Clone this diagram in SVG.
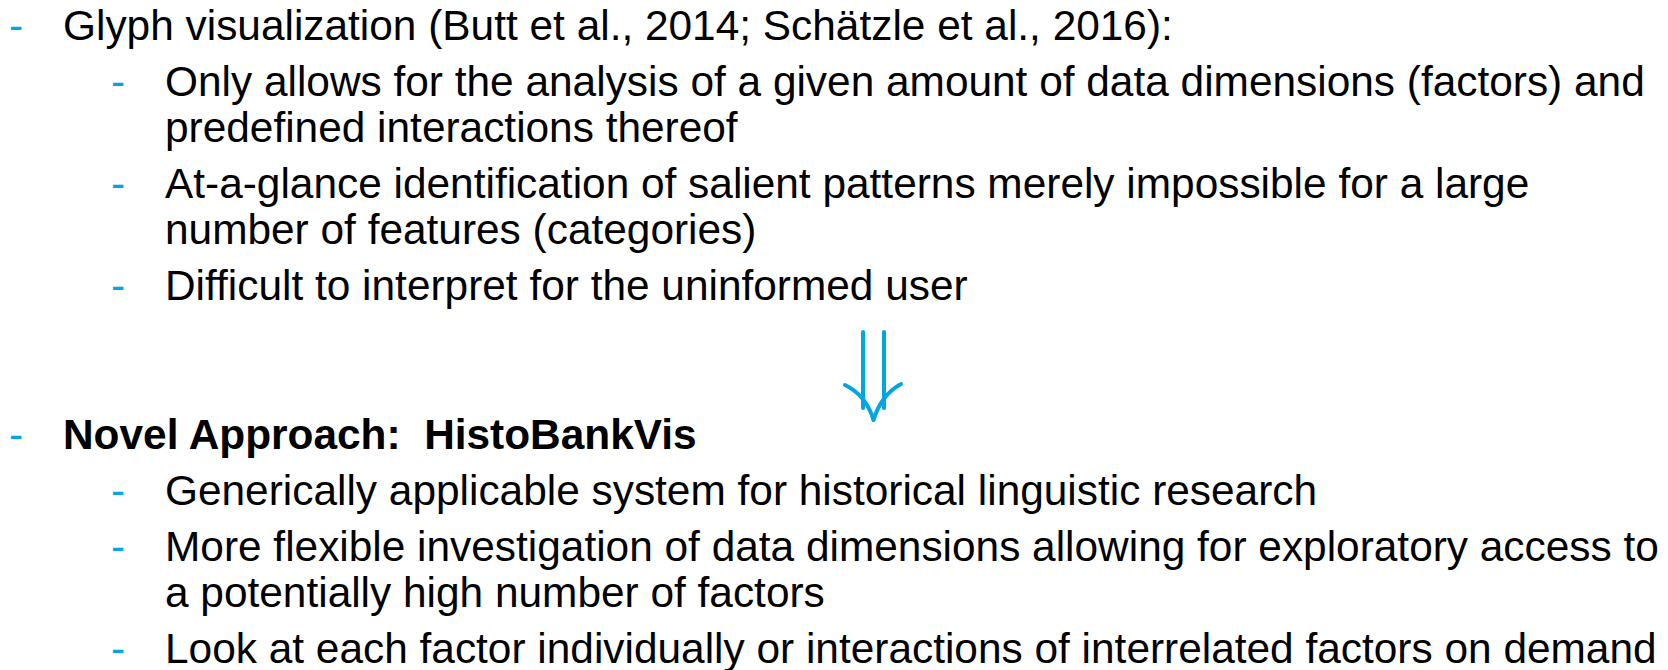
<svg xmlns="http://www.w3.org/2000/svg" width="1668" height="670" viewBox="0 0 1668 670">
  <style>
    text { font-family: "Liberation Sans", Arial, Helvetica, sans-serif; font-size: 42.4px; fill: #000; }
    .dash { fill: #00a6e1; }
    .bold { font-weight: bold; }
    .arrow { fill: none; stroke: #00a6e1; stroke-width: 4; stroke-linecap: round; }
  </style>
  <rect width="1668" height="670" fill="#ffffff"/>

  <!-- First bullet: glyph visualization and its drawbacks -->
  <g id="glyph-visualization">
    <text class="dash" x="9" y="40">-</text>
    <text x="63" y="40">Glyph visualization (Butt et al., 2014; Schätzle et al., 2016):</text>
  </g>
  <g id="glyph-limit-dimensions">
    <text class="dash" x="111" y="96">-</text>
    <text x="165" y="96">Only allows for the analysis of a given amount of data dimensions (factors) and</text>
    <text x="165" y="142">predefined interactions thereof</text>
  </g>
  <g id="glyph-limit-patterns">
    <text class="dash" x="111" y="198">-</text>
    <text x="165" y="198">At-a-glance identification of salient patterns merely impossible for a large</text>
    <text x="165" y="244">number of features (categories)</text>
  </g>
  <g id="glyph-limit-interpretation">
    <text class="dash" x="111" y="300">-</text>
    <text x="165" y="300">Difficult to interpret for the uninformed user</text>
  </g>

  <!-- Double-shafted downward arrow -->
  <g id="connectors">
    <line class="arrow" x1="863" y1="332" x2="863" y2="408"/>
    <line class="arrow" x1="884" y1="332" x2="884" y2="408"/>
    <path class="arrow" d="M845,385 Q866,395 873.5,420"/>
    <path class="arrow" d="M901,384 Q881,395 873.5,420"/>
  </g>

  <!-- Second bullet: the new approach -->
  <g id="novel-approach">
    <text class="dash" x="9" y="449">-</text>
    <text class="bold" x="63" y="449" xml:space="preserve">Novel Approach:  HistoBankVis</text>
  </g>
  <g id="approach-generic">
    <text class="dash" x="111" y="505">-</text>
    <text x="165" y="505">Generically applicable system for historical linguistic research</text>
  </g>
  <g id="approach-flexible">
    <text class="dash" x="111" y="561">-</text>
    <text x="165" y="561">More flexible investigation of data dimensions allowing for exploratory access to</text>
    <text x="165" y="607">a potentially high number of factors</text>
  </g>
  <g id="approach-on-demand">
    <text class="dash" x="111" y="663">-</text>
    <text x="165" y="663">Look at each factor individually or interactions of interrelated factors on demand</text>
  </g>
</svg>
